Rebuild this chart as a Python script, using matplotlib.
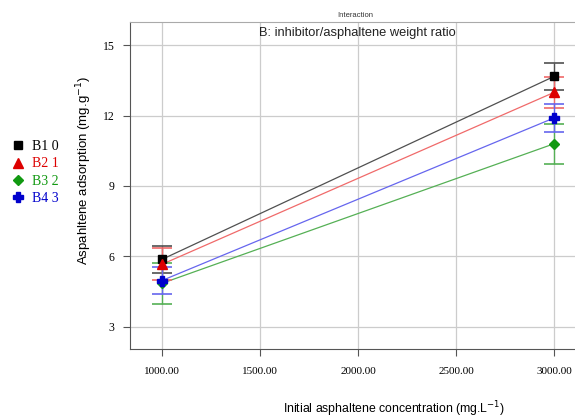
import matplotlib
matplotlib.use("Agg")
import matplotlib.pyplot as plt
from matplotlib.lines import Line2D

# ── Data ──────────────────────────────────────────────────────────────────────
conc = [1000, 3000]
labels = ["B1 0", "B2 1", "B3 2", "B4 3"]
b1 = [5.87, 13.67]
b2 = [5.66, 12.99]
b3 = [4.85, 10.80]
b4 = [4.97, 11.90]
b1_err = [0.56, 0.56]
b2_err = [0.68, 0.65]
b3_err = [0.86, 0.86]
b4_err = [0.56, 0.60]
xticks = [1000, 1500, 2000, 2500, 3000]
yticks = [3, 6, 9, 12, 15]

series = [b1, b2, b3, b4]
errs = [b1_err, b2_err, b3_err, b4_err]
line_cols = ["#505050", "#f06a6a", "#55b055", "#6666ee"]
mark_cols = ["#000000", "#dd0000", "#119911", "#0000cc"]
markers = ["s", "^", "D", "P"]
msizes = [6, 6.5, 5, 7]

serif = "Liberation Serif"
sans = "Liberation Sans"

fig = plt.figure(figsize=(5.75, 4.19), dpi=100)
ax = fig.add_axes([0.226, 0.167, 0.774, 0.781])

for y, e, lc, mc, m, ms in zip(series, errs, line_cols, mark_cols, markers, msizes):
    ax.plot(conc, y, color=lc, lw=0.9, zorder=2)
    ax.errorbar(conc, y, yerr=e, fmt="none", ecolor=lc, elinewidth=1.0,
                capsize=7.5, capthick=1.2, zorder=3)
    ax.plot(conc, y, ls="none", marker=m, ms=ms, color=mc, zorder=4)

ax.set_xlim(837, 3107)
ax.set_ylim(2.05, 16.0)
ax.set_xticks(xticks)
ax.set_xticklabels([f"{v:.2f}" for v in xticks], fontfamily=serif, fontsize=8)
ax.set_yticks(yticks)
ax.set_yticklabels([str(v) for v in yticks], fontfamily=serif, fontsize=8.5)
ax.tick_params(direction="out", length=5, color="#555555", pad=6)
ax.tick_params(axis="x", pad=8)
ax.grid(True, color="#cccccc", lw=0.9, zorder=0)
for s in ["left", "bottom"]:
    ax.spines[s].set_color("#555555")
ax.spines["top"].set_color("#aaaaaa")
ax.spines["right"].set_visible(False)

ax.set_xlabel("Initial asphaltene concentration (mg.L$^{-1}$)", fontfamily=sans,
              fontsize=8.8)
ax.xaxis.set_label_coords(0.593, -0.155)
ax.set_ylabel("Aspahltene adsorption (mg.g$^{-1}$)", fontfamily=sans,
              fontsize=9.5)
ax.yaxis.set_label_coords(-0.08, 0.547)

ax.text(0.512, 0.985, "B: inhibitor/asphaltene weight ratio", transform=ax.transAxes,
        ha="center", va="top", fontfamily=sans, fontsize=9.3, color="#222222")
fig.text(0.617, 0.962, "Interaction", ha="center", va="center", fontfamily=sans,
         fontsize=5.5, color="#333333")

handles = [Line2D([], [], ls="none", marker=m, ms=ms, color=mc)
           for m, ms, mc in zip(markers, msizes, mark_cols)]
fig.legend(handles, labels, loc="upper left", bbox_to_anchor=(0.0, 0.695),
           frameon=False, handlelength=0.8, handletextpad=0.6, labelspacing=0.3,
           prop={"family": serif, "size": 10}, labelcolor=mark_cols)

fig.savefig("out.png", dpi=100)
